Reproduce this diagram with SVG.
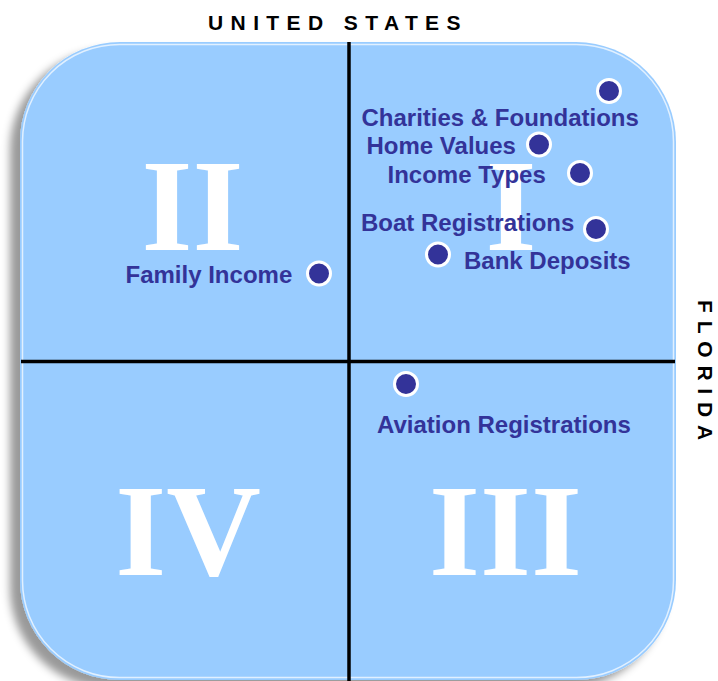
<svg xmlns="http://www.w3.org/2000/svg" width="718" height="681" viewBox="0 0 718 681">
  <defs>
    <filter id="shadow" x="-10%" y="-10%" width="120%" height="120%">
      <feDropShadow dx="-10" dy="8" stdDeviation="4" flood-color="#000000" flood-opacity="0.4"/>
    </filter>
  </defs>
  <style>
    .panel { fill: #99CCFF; }
    .rim { fill: none; stroke: #ffffff; stroke-opacity: 0.7; stroke-width: 1.5; }
    .axis { stroke: #000000; stroke-width: 3.5; }
    .roman { font-family: "Liberation Serif", "Times New Roman", serif; font-weight: bold; font-size: 131px; fill: #ffffff; text-anchor: middle; }
    .label { font-family: "Liberation Sans", Arial, sans-serif; font-weight: bold; font-size: 24px; fill: #333399; }
    .dot { fill: #333399; stroke: #ffffff; stroke-width: 3; }
    .title { font-family: "Liberation Sans", Arial, sans-serif; font-weight: bold; font-size: 21px; fill: #000000; }
  </style>

  <g id="panel">
    <rect class="panel" x="20" y="42" width="656" height="638" rx="100" ry="100" filter="url(#shadow)"/>
    <rect class="rim" x="22.5" y="44.5" width="651" height="633" rx="97" ry="97"/>
  </g>

  <g id="quadrant-labels">
    <text class="roman" x="192.5" y="250">II</text>
    <text class="roman" x="511" y="250">I</text>
    <text class="roman" x="188" y="575">IV</text>
    <text class="roman" x="505.5" y="575">III</text>
  </g>

  <g id="axes">
    <line class="axis" x1="349" y1="42" x2="349" y2="681"/>
    <line class="axis" x1="21" y1="361.5" x2="675" y2="361.5"/>
  </g>

  <g id="axis-titles">
    <text class="title" x="208" y="29.5" letter-spacing="7.4">UNITED STATES</text>
    <text class="title" transform="translate(698,300) rotate(90)" x="0" y="0" letter-spacing="7.8">FLORIDA</text>
  </g>

  <g id="charities">
    <circle class="dot" cx="609" cy="91" r="11.5"/>
    <text class="label" x="361.5" y="125.5">Charities &amp; Foundations</text>
  </g>
  <g id="home-values">
    <circle class="dot" cx="539" cy="144.5" r="11.5"/>
    <text class="label" x="366.5" y="153.5">Home Values</text>
  </g>
  <g id="income-types">
    <circle class="dot" cx="580" cy="173" r="11.5"/>
    <text class="label" x="387.5" y="183">Income Types</text>
  </g>
  <g id="boat-registrations">
    <circle class="dot" cx="596" cy="229" r="11.5"/>
    <text class="label" x="361" y="231">Boat Registrations</text>
  </g>
  <g id="bank-deposits">
    <circle class="dot" cx="438" cy="254.5" r="11.5"/>
    <text class="label" x="464" y="268.5">Bank Deposits</text>
  </g>
  <g id="family-income">
    <circle class="dot" cx="319" cy="273.5" r="11.5"/>
    <text class="label" x="125.5" y="282.5">Family Income</text>
  </g>
  <g id="aviation-registrations">
    <circle class="dot" cx="406" cy="384" r="11.5"/>
    <text class="label" x="377" y="433">Aviation Registrations</text>
  </g>
</svg>
